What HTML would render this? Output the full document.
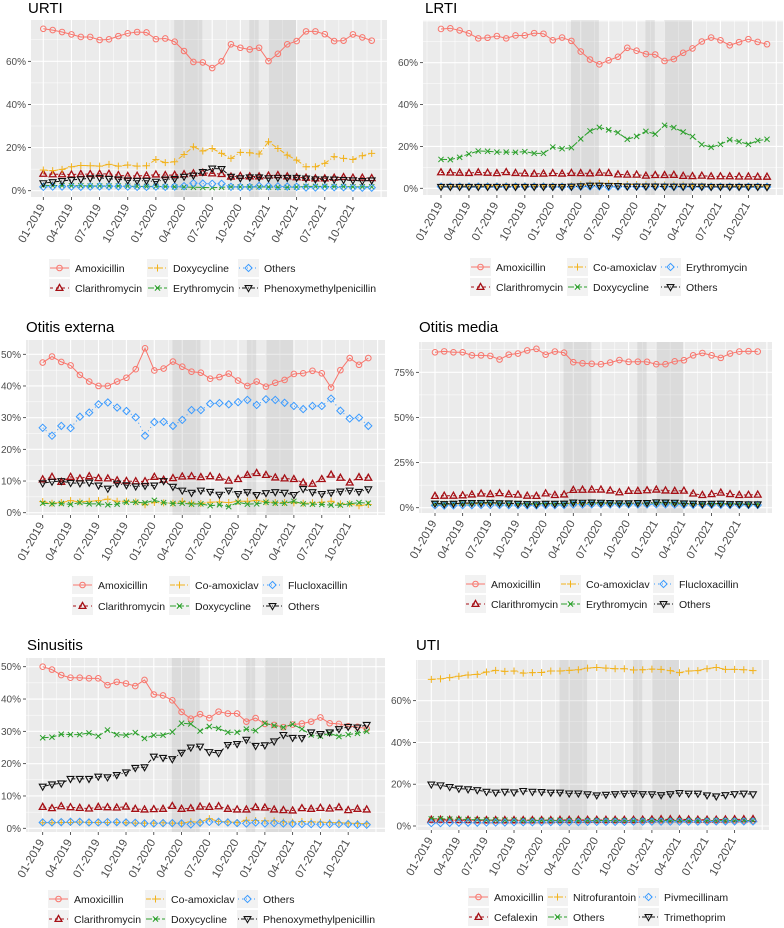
<!DOCTYPE html>
<html><head><meta charset="utf-8">
<style>
html,body{margin:0;padding:0;background:#fff;}
svg{display:block;font-family:"Liberation Sans",sans-serif;}
</style></head>
<body>
<svg id="fig" width="784" height="928" viewBox="0 0 784 928" xmlns="http://www.w3.org/2000/svg"></svg>
<script>
// ---- Data (percent, monthly 01-2019 .. 12-2021) ----
const monthTickLabels = ["01-2019","04-2019","07-2019","10-2019","01-2020","04-2020","07-2020","10-2020","01-2021","04-2021","07-2021","10-2021"];
const urtiAmox = [75.1,74.5,73.6,72.5,71.3,71.3,69.9,70.2,71.7,73,73.6,73.4,70.3,70.6,69.1,64.8,59.7,59.5,56.9,60,67.9,66.3,65.5,66.3,60.1,63.5,67.9,69.4,73.9,73.9,72.6,69.4,69.6,72.5,71.1,69.6];
const urtiClar = [7.8,7.6,7.6,7.5,7.7,7.7,7.8,7.8,7.2,6.8,6.9,7.0,7.5,7.2,7.3,7.6,8.0,8.3,8.0,7.7,6.5,6.8,6.6,6.6,7.0,7.2,6.6,6.2,6.0,5.7,5.7,6.0,6.3,6.0,6.0,5.8];
const urtiDoxy = [9.6,9.3,9.9,11.1,11.7,11.6,11.4,12.2,11.4,11.9,11.4,11.6,14.5,13,13.4,16.8,20.4,18.4,19.6,17.3,15,17.8,17.6,17,22.7,19.6,16.5,14.2,11.1,11.1,12.7,15.8,15,14.5,16.2,17.3];
const urtiEry = [2.5,2.4,2.4,2.3,2.3,2.2,2.2,2.2,2.2,2.1,2.0,2.0,2.0,1.9,1.8,1.7,1.6,1.5,1.4,1.6,1.8,1.8,1.8,1.8,1.7,1.6,1.6,1.7,2.0,2.0,2.0,1.9,1.9,1.8,1.8,1.8];
const urtiOthers = [1.8,1.9,1.9,1.9,1.8,1.9,2.0,2.0,2.0,1.9,1.8,1.8,1.9,1.8,1.9,2.1,3.5,3.3,3.2,3.2,1.8,1.7,1.7,2.2,2.1,2.0,1.9,1.8,1.5,1.5,1.6,1.6,1.6,1.4,1.4,1.4];
const urtiPhen = [3.5,4,4.5,5,5.3,5.8,6,5.5,5.3,4.8,4.6,4.6,4.2,5.2,5.5,6.5,7.1,8.7,10.3,10.1,6.5,5.8,6.2,6.2,5.8,6.0,6.0,6.0,5.7,5.3,5.3,5.2,5.0,4.8,4.5,4.8];

const lrtiAmox = [76.1,76.4,75.4,74,71.6,71.9,72.7,71.6,73,73,74.1,73.8,70.7,72,70.4,65.3,61.5,59.2,61.1,62.8,67.1,65.7,64.1,63.9,60.8,61.7,64.7,66.8,70.1,72,70.7,68.3,69.8,71.2,69.9,68.8];
const lrtiClar = [7.6,7.5,7.4,7.3,7.6,7.4,7.2,7.7,7.3,7.1,6.9,7.0,7.2,7.0,7.3,7.2,7.1,7.4,7.3,6.6,6.5,6.5,6.0,6.3,6.3,6.4,5.9,5.8,6.0,5.7,5.7,5.7,5.6,5.6,5.5,5.5];
const lrtiCoam = [1.0,1.0,1.1,1.1,1.1,1.2,1.2,1.3,1.2,1.2,1.2,1.2,1.2,1.2,1.3,1.7,2.0,2.3,2.3,2.2,1.8,1.8,1.7,1.7,1.6,1.6,1.5,1.4,1.2,1.2,1.1,1.1,1.1,1.1,1.1,1.1];
const lrtiDoxy = [13.8,13.7,14.8,16.4,17.8,17.7,17.3,17.3,17.2,17.5,16.7,16.7,19.7,18.9,19.4,23.6,27.4,29.1,27.9,26.6,23.4,24.8,27.2,25.9,30.1,29,26.9,24.7,20.9,19.6,21,23.2,22.3,21,22.8,23.4];
const lrtiEry = [0.8,0.8,0.8,0.8,0.8,0.8,0.8,0.8,0.8,0.8,0.8,0.8,0.7,0.7,0.7,0.8,0.9,0.9,0.6,0.8,0.8,0.8,0.8,0.8,0.8,0.7,0.7,0.7,0.7,0.7,0.7,0.7,0.7,0.7,0.7,0.7];
const lrtiOthers = [0.7,0.7,0.7,0.7,0.7,0.7,0.7,0.7,0.7,0.7,0.7,0.7,0.7,0.7,0.8,1.0,1.3,1.3,1.2,1.1,0.9,0.9,0.9,0.9,0.8,0.8,0.8,0.8,0.8,0.7,0.7,0.7,0.7,0.7,0.7,0.6];

const oeAmox = [47.4,49.3,47.6,46.5,43.5,41.4,40,40,41.4,42.6,45.3,51.9,44.9,45.5,47.7,46.1,44.5,44.2,42.3,42.8,43.9,41.7,40,41.4,39.8,41,41.9,43.8,44,44.8,44,39.5,45,48.8,46.7,48.8];
const oeClar = [10.5,11.3,9.7,11.3,10.8,11.5,10.9,10.8,10.2,10.0,9.9,9.9,11.3,10.4,10.9,11.4,11.5,11.2,11.5,11.1,10.1,10.6,11.9,12.5,11.9,11.1,10.8,10.6,9.5,9.1,10.6,12.0,11.0,9.5,11.2,11.0];
const oeCoam = [3.5,3.0,3.2,3.8,3.4,3.6,3.8,4.3,3.6,3.6,3.4,2.5,3.2,3.1,3.0,3.6,3.0,2.9,3.3,3.4,3.2,3.6,3.6,3.9,3.4,3.2,3.2,3.1,3.0,3.1,3.3,3.6,2.8,2.8,2.2,2.6];
const oeDoxy = [3.0,2.8,2.9,2.6,3.2,2.8,2.8,2.5,2.7,3.3,3.3,3.1,3.9,3.2,2.9,3.0,2.7,2.8,2.2,2.5,1.9,3.3,2.7,2.8,3.3,3.0,3.0,3.6,2.8,2.7,2.6,2.4,2.4,2.8,3.2,3.0];
const oeFlux = [26.8,24.3,27.4,26.7,30.3,31.6,34.2,34.8,33.2,32.1,30.1,24.3,28.6,28.7,27.4,29.3,32.4,32.4,34.4,34.6,34.2,34.9,35.6,34,35.8,35.6,34.7,33.7,32.7,33.7,33.7,36,32.2,29.7,30,27.4];
const oeOthers = [9.3,9.8,10,9.4,9.3,9.5,8.6,7.6,9.2,8.7,8.3,8.5,8.6,10.0,8.2,7.0,6.3,7.0,6.6,5.7,7.0,5.9,6.5,5.6,6.2,6.5,6.3,5.6,7.5,6.5,5.9,6.3,6.7,7.0,6.6,7.4];

const omAmox = [86.1,86.6,86.1,86.1,84.4,84.4,84.1,82.1,84.8,85.4,87.1,88,84.8,86.5,85.9,80.6,80,79.7,79.5,80.4,81.8,80.8,80.9,80.8,79.5,79.5,81.1,81.7,84.4,85.7,84.4,83,85.4,86.5,86.7,86.5];
const omClar = [6.5,6.6,6.6,6.8,7.3,7.8,7.5,8.0,7.4,7.2,6.6,6.5,7.9,7.0,7.3,9.8,9.9,10.0,10.0,9.5,8.5,9.3,9.3,9.6,10.0,9.5,9.3,9.4,7.8,7.0,7.5,8.3,7.5,7.0,7.1,7.2];
const omCoam = [2.0,2.0,2.0,2.1,2.1,2.1,2.2,2.1,2.0,1.9,1.8,1.8,2.0,2.0,2.1,2.3,2.3,2.4,2.4,2.3,2.2,2.2,2.2,2.2,2.3,2.2,2.1,2.0,1.9,1.8,1.8,1.9,1.8,1.8,1.7,1.7];
const omEry = [2.4,2.3,2.4,2.5,2.6,2.8,2.9,2.6,2.5,2.4,2.3,2.2,2.3,2.2,2.3,2.6,2.6,2.7,2.7,2.6,2.5,2.5,2.5,2.5,2.7,2.7,2.6,2.4,2.3,2.2,2.3,2.3,2.2,2.1,2.0,2.0];
const omFlux = [1.3,1.2,1.3,1.4,1.4,1.5,1.5,1.5,1.4,1.4,1.3,1.3,1.4,1.4,1.5,1.8,1.8,1.9,1.9,1.8,1.8,1.8,1.8,1.8,1.9,1.9,1.8,1.7,1.6,1.6,1.6,1.6,1.5,1.5,1.5,1.5];
const omOthers = [2.3,2.0,2.2,2.6,2.6,2.6,2.7,2.5,2.4,2.2,2.0,1.9,2.2,2.2,2.3,2.9,2.8,2.9,2.8,2.6,2.5,2.5,2.6,2.6,3.0,2.9,2.8,2.4,2.3,2.0,2.2,2.3,2.0,2.0,1.9,1.9];

const siAmox = [50,49.1,47.4,46.6,46.6,46.4,46.4,44.3,45.3,44.8,44,45.9,41.4,41.1,39.6,36,33.9,35.3,34.1,36.1,35.5,35.5,33,34.1,32.3,32,31.3,32.1,32.4,33,34.3,32.5,32.3,31.6,31.4,30.8];
const siClar = [6.6,6.2,6.8,6.5,6.3,6.1,6.6,6.5,6.4,6.7,6.0,5.8,5.9,6.0,6.9,6.0,6.2,6.7,6.6,6.8,6.0,5.8,5.8,6.5,6.4,5.8,5.6,5.5,6.2,6.0,6.3,6.1,6.5,5.6,6.0,5.8];
const siCoam = [1.7,1.7,1.8,1.8,1.9,1.8,1.8,1.8,1.8,1.7,1.6,1.6,1.6,1.7,1.6,1.6,2.0,1.9,3.0,2.1,2.0,1.8,2.5,2.4,2.3,2.3,2.0,1.9,2.1,2.0,1.9,1.8,1.7,1.6,1.5,1.4];
const siDoxy = [28,28.2,29.1,29,29,29.5,28.5,30.4,29,28.8,29.6,27.8,28.8,28.8,29.8,32.5,32.3,30.1,31.5,30.9,29.7,29.7,30.7,30.2,32.5,31.8,31.2,32.2,30.7,28.9,28.5,29.4,28.4,29,29.4,30];
const siOthers = [1.8,1.8,1.9,2.0,2.0,1.8,1.8,1.9,1.9,1.8,1.7,1.5,1.5,1.6,1.6,1.5,1.2,1.7,2.0,2.0,1.8,1.6,1.5,1.8,1.5,1.6,1.5,1.4,1.3,1.3,1.2,1.3,1.3,1.3,1.1,1.1];
const siPhen = [12.9,13.6,13.9,15.3,15.3,15.3,16,15.8,16.5,17.3,18.7,18.9,22.2,21.8,21.4,23.4,25,25.3,23.6,23.3,25.8,26.1,27.4,25.5,25.7,26.9,28.9,28,27.9,29.7,29.2,29.7,30.7,31.4,31.2,32];

const utiAmox = [2.8,2.8,2.8,2.7,2.7,2.7,2.6,2.6,2.6,2.6,2.6,2.6,2.6,2.6,2.6,2.6,2.6,2.6,2.6,2.6,2.6,2.6,2.6,2.6,2.7,2.7,2.7,2.7,2.7,2.7,2.6,2.6,2.6,2.6,2.6,2.6];
const utiCefa = [3.0,3.0,2.9,2.9,2.9,2.8,2.8,2.8,2.8,2.8,2.8,2.8,2.8,2.8,2.9,2.9,2.9,2.9,2.9,2.9,2.9,2.9,2.9,3.0,3.1,3.2,3.2,3.2,3.1,3.0,3.0,3.0,3.1,3.2,3.2,3.3];
const utiNitro = [70.2,70.4,71,71.7,72.3,72.6,73.7,74.5,74,74.2,73.2,73.4,73.5,74.2,74.2,74.5,74.8,75.6,75.9,75.6,75.3,75.3,74.7,74.8,75.1,75,74.4,73.4,74.2,74.4,75.3,75.9,75,75,74.8,74.4];
const utiOthers = [3.4,3.5,3.3,3.2,3.1,3.0,2.9,2.9,2.8,2.8,2.7,2.7,2.7,2.7,2.7,2.6,2.6,2.6,2.6,2.6,2.6,2.6,2.6,2.6,2.6,2.6,2.6,2.6,2.6,2.6,2.6,2.6,2.6,2.6,2.6,2.6];
const utiPiv = [1.4,1.4,1.5,1.6,1.6,1.6,1.7,1.7,1.7,1.8,1.8,1.8,1.9,1.9,1.9,1.9,1.9,2.0,2.0,2.0,2.0,2.0,2.1,2.1,2.1,2.1,2.1,2.1,2.1,2.1,2.1,2.2,2.2,2.2,2.2,2.2];
const utiTrim = [19.9,19.5,18.7,17.9,17.6,17.2,16.4,16,16.4,16.1,16.8,16.4,16.3,16,16,15.6,15.6,15.2,14.7,15,15.3,15.5,15.6,15.3,15.2,14.8,15.3,15.8,15.5,15.5,14.7,14.2,14.8,15.3,15.5,15.2];

const lockdownStarts = [14, 22, 24];
const lockdownEnds = [17, 23, 27];

// ---- Styles by legend slot ----
const STY = [
  {c:"#F8766D", shape:"circle", dash:""},
  {c:"#A50F15", shape:"tri", dash:"3,3"},
  {c:"#F2B21B", shape:"plus", dash:"5,2,1,2"},
  {c:"#2CA02C", shape:"x", dash:"6,2"},
  {c:"#3B9BFF", shape:"diamond", dash:"1,3"},
  {c:"#111111", shape:"tridown", dash:"1,2,4,2"}
];

const NS = "http://www.w3.org/2000/svg";
const svg = document.getElementById("fig");
function mk(tag, attrs, parent){
  const e = document.createElementNS(NS, tag);
  for (const k in attrs) e.setAttribute(k, attrs[k]);
  (parent||svg).appendChild(e);
  return e;
}
function marker(g, shape, x, y, col){
  let e;
  const sw = 1;
  if (shape==="circle") e = mk("circle",{cx:x,cy:y,r:2.8,fill:"none",stroke:col,"stroke-width":sw},g);
  else if (shape==="tri") e = mk("polygon",{points:`${x},${y-3.6} ${x+3.4},${y+2.4} ${x-3.4},${y+2.4}`,fill:"none",stroke:col,"stroke-width":1.3},g);
  else if (shape==="tridown") e = mk("polygon",{points:`${x},${y+3.6} ${x+3.4},${y-2.4} ${x-3.4},${y-2.4}`,fill:"none",stroke:col,"stroke-width":1.1},g);
  else if (shape==="plus") e = mk("path",{d:`M${x-3.5},${y}H${x+3.5}M${x},${y-3.5}V${y+3.5}`,stroke:col,"stroke-width":sw,fill:"none"},g);
  else if (shape==="x") e = mk("path",{d:`M${x-2.6},${y-2.6}L${x+2.6},${y+2.6}M${x-2.6},${y+2.6}L${x+2.6},${y-2.6}`,stroke:col,"stroke-width":sw,fill:"none"},g);
  else e = mk("polygon",{points:`${x},${y-3.6} ${x+3.6},${y} ${x},${y+3.6} ${x-3.6},${y}`,fill:"none",stroke:col,"stroke-width":sw},g);
  return e;
}

const panels = [
  {id:"urti", title:"URTI", tx:28, ty:13, L:31, R:387, T:20, B:197, y0:190.7, k:2.156, ticks:[0,20,40,60], x0:43.3, x1:371.7,
   ley:[268,288], lex:[49,147,238], names:["Amoxicillin","Clarithromycin","Doxycycline","Erythromycin","Others","Phenoxymethylpenicillin"],
   data:[urtiAmox,urtiClar,urtiDoxy,urtiEry,urtiOthers,urtiPhen]},
  {id:"lrti", title:"LRTI", tx:425, ty:13, L:423, R:783, T:20, B:195, y0:188.3, k:2.094, ticks:[0,20,40,60], x0:441, x1:767,
   ley:[267,287], lex:[470,567,660], names:["Amoxicillin","Clarithromycin","Co-amoxiclav","Doxycycline","Erythromycin","Others"],
   data:[lrtiAmox,lrtiClar,lrtiCoam,lrtiDoxy,lrtiEry,lrtiOthers]},
  {id:"otitis-externa", title:"Otitis externa", tx:26, ty:332, L:26, R:385, T:340, B:515, y0:512.7, k:3.168, ticks:[0,10,20,30,40,50], x0:42.7, x1:368.3,
   ley:[585,606], lex:[72,169,262], names:["Amoxicillin","Clarithromycin","Co-amoxiclav","Doxycycline","Flucloxacillin","Others"],
   data:[oeAmox,oeClar,oeCoam,oeDoxy,oeFlux,oeOthers]},
  {id:"otitis-media", title:"Otitis media", tx:419, ty:332, L:419, R:772, T:342, B:513, y0:507.7, k:1.805, ticks:[0,25,50,75], x0:435, x1:757.7,
   ley:[584,604], lex:[465,560,653], names:["Amoxicillin","Clarithromycin","Co-amoxiclav","Erythromycin","Flucloxacillin","Others"],
   data:[omAmox,omClar,omCoam,omEry,omFlux,omOthers]},
  {id:"sinusitis", title:"Sinusitis", tx:27, ty:650, L:26, R:385, T:658, B:832, y0:828.3, k:3.232, ticks:[0,10,20,30,40,50], x0:42.7, x1:366.7,
   ley:[899,919], lex:[48,145,237], names:["Amoxicillin","Clarithromycin","Co-amoxiclav","Doxycycline","Others","Phenoxymethylpenicillin"],
   data:[siAmox,siClar,siCoam,siDoxy,siOthers,siPhen]},
  {id:"uti", title:"UTI", tx:416, ty:650, L:416, R:769, T:660, B:830, y0:826, k:2.089, ticks:[0,20,40,60], x0:431.3, x1:753,
   ley:[897,917], lex:[468,547,638], names:["Amoxicillin","Cefalexin","Nitrofurantoin","Others","Pivmecillinam","Trimethoprim"],
   data:[utiAmox,utiCefa,utiNitro,utiOthers,utiPiv,utiTrim]}
];

panels.forEach(p=>{
  const g = mk("g",{});
  
  
  const step = (p.x1 - p.x0)/35;
  const xs = i => p.x0 + i*step;
  const ys = v => p.y0 - v*p.k;

  const t = mk("text",{x:p.tx,y:p.ty,"font-size":"15",fill:"#000"},g);
  t.textContent = p.title;
  
  

  const clipId = "clip-"+p.id;
  const cp = mk("clipPath",{id:clipId},g);
  mk("rect",{x:p.L,y:p.T,width:p.R-p.L,height:p.B-p.T},cp);

  const bg = mk("rect",{x:p.L,y:p.T,width:p.R-p.L,height:p.B-p.T,fill:"#EBEBEB"},g);
  
  

  const grid = mk("g",{"clip-path":`url(#${clipId})`},g);
  const dt = p.ticks[1]-p.ticks[0];
  for (let v = p.ticks[0]-dt/2; ys(v) > p.T; v += dt/2){
    const major = Math.abs(((v/dt)%1)) < 1e-6;
    mk("line",{x1:p.L,x2:p.R,y1:ys(v),y2:ys(v),stroke:"#fff","stroke-width":major?1.1:0.5},grid);
  }
  for (let i = -1.5; i <= 39; i += 1.5){
    const major = (i % 3) === 0;
    mk("line",{x1:xs(i),x2:xs(i),y1:p.T,y2:p.B,stroke:"#fff","stroke-width":major?1.1:0.5},grid);
  }
  lockdownStarts.forEach((s,j)=>{
    const r = mk("rect",{x:xs(s-0.05),y:p.T,width:xs(lockdownEnds[j]-0.05)-xs(s-0.05),height:p.B-p.T,fill:"#9a9a9a","fill-opacity":0.2},g);
    
    
  });

  // y axis
  p.ticks.forEach(v=>{
    mk("line",{x1:p.L-3,x2:p.L,y1:ys(v),y2:ys(v),stroke:"#333","stroke-width":0.8},g);
    const tl = mk("text",{x:p.L-5,y:ys(v)+3.5,"font-size":"10","text-anchor":"end",fill:"#4D4D4D"},g);
    tl.textContent = v + "%";
    
    
  });
  // x axis
  monthTickLabels.forEach((lab,j)=>{
    const x = xs(j*3);
    mk("line",{x1:x,x2:x,y1:p.B,y2:p.B+3,stroke:"#333","stroke-width":0.8},g);
    const ax = x+2, ay = p.B+10;
    const tl = mk("text",{x:ax,y:ay,"font-size":"11.5","text-anchor":"end",fill:"#4D4D4D",transform:`rotate(-60 ${ax} ${ay})`},g);
    tl.textContent = lab;
    
    
  });

  // series
  p.data.forEach((arr,si)=>{
    const st = STY[si];
    const sg = mk("g",{},g);
    
    
    const d = arr.map((v,i)=>(i?"L":"M")+xs(i).toFixed(2)+","+ys(v).toFixed(2)).join("");
    mk("path",{d:d,fill:"none",stroke:st.c,"stroke-width":1,"stroke-dasharray":st.dash},sg);
    arr.forEach((v,i)=>{
      const m = marker(sg, st.shape, xs(i), ys(v), st.c);
      
      
    });
  });

  // legend
  const lg = mk("g",{},g);
  
  
  p.names.forEach((nm,si)=>{
    const col = Math.floor(si/2), row = si%2;
    const kx = p.lex[col], ky = p.ley[row];
    const st = STY[si];
    const eg = mk("g",{},lg);
    
    
    mk("rect",{x:kx,y:ky-9,width:21,height:18,fill:"#F2F2F2"},eg);
    mk("line",{x1:kx+1,x2:kx+20,y1:ky,y2:ky,stroke:st.c,"stroke-width":1,"stroke-dasharray":st.dash},eg);
    marker(eg, st.shape, kx+10.5, ky, st.c);
    const tx = mk("text",{x:kx+26,y:ky+4,"font-size":"10.5",fill:"#1a1a1a"},eg);
    tx.textContent = nm;
  });
});
</script>
</body></html>
